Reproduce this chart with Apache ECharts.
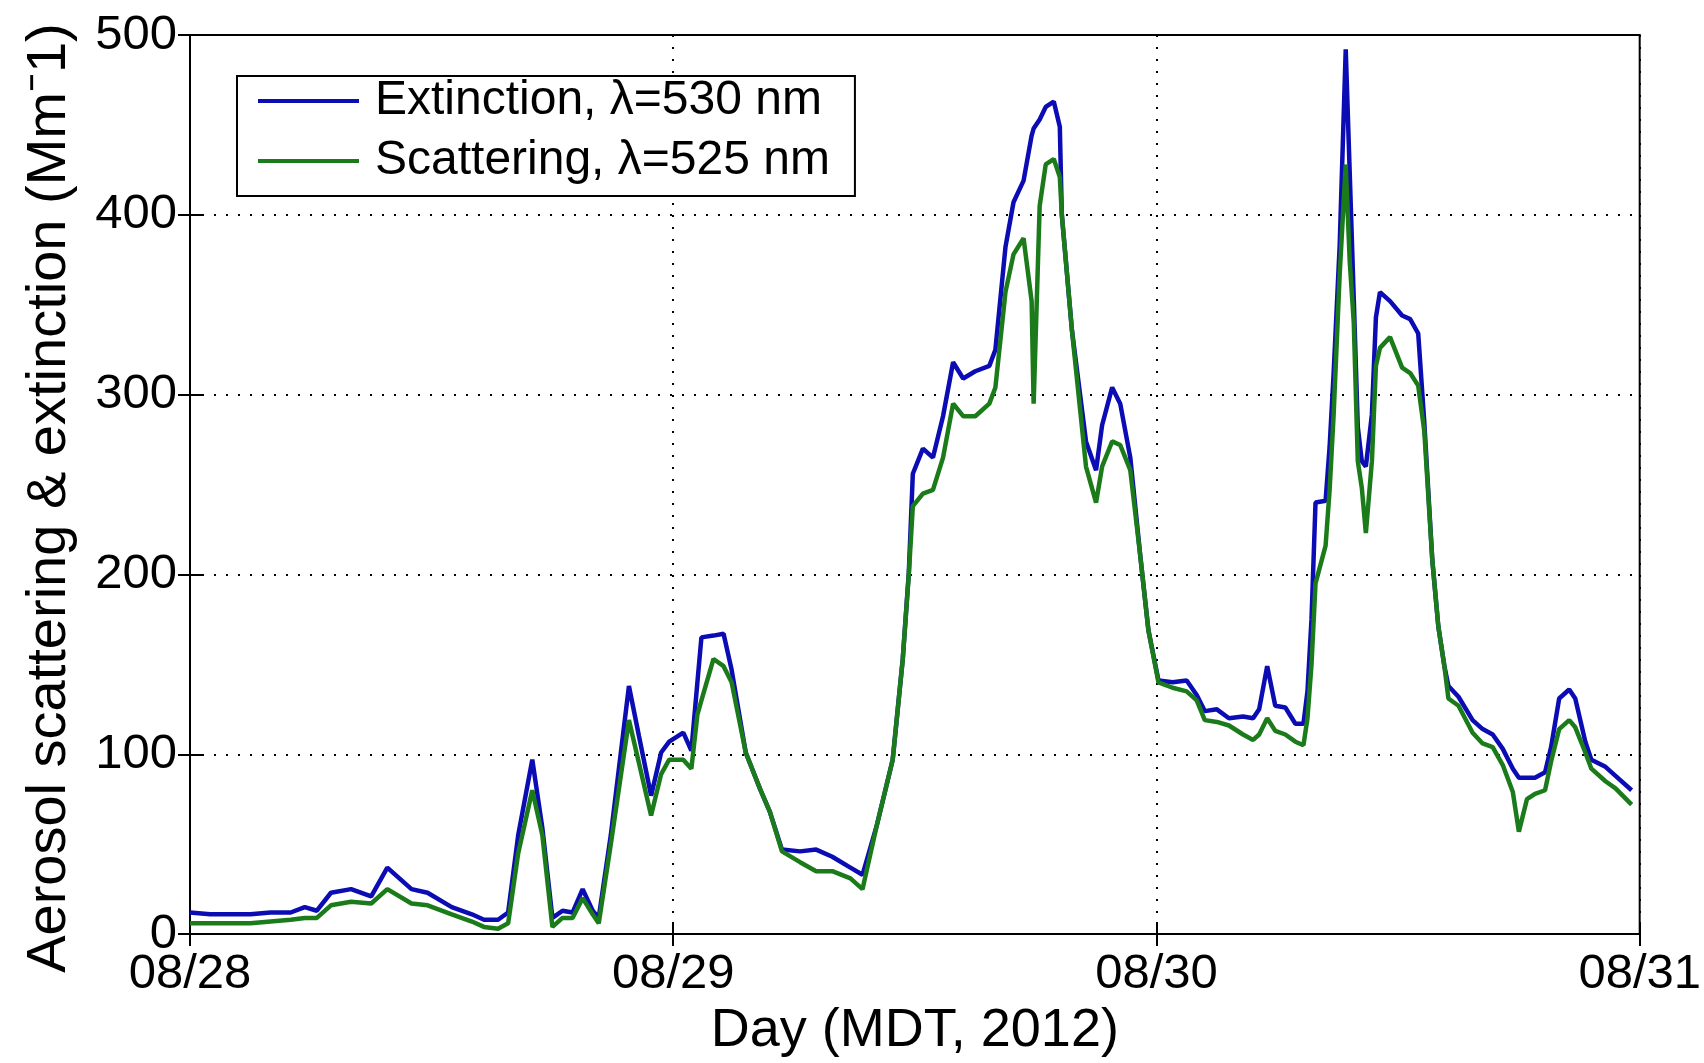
<!DOCTYPE html>
<html>
<head>
<meta charset="utf-8">
<title>Aerosol scattering & extinction</title>
<script src="https://cdn.jsdelivr.net/npm/echarts@6/dist/echarts.min.js"></script>
<style>
  html, body { margin: 0; padding: 0; background: #ffffff; }
  #chart { width: 1704px; height: 1063px; }
</style>
</head>
<body>
<div id="chart"></div>
<script>
// hours since 08/28 00:00 MDT
var hours = [
  0.0, 1.0, 2.0, 3.0, 4.0, 5.0, 5.7, 6.3, 7.0, 8.0, 9.0, 9.8, 11.0, 11.8, 13.0, 14.0,
  14.6, 15.3, 15.8, 16.3, 17.0, 17.5, 18.0, 18.5, 19.0, 19.5, 20.0, 20.3, 20.9, 21.8,
  22.3, 22.9, 23.4, 23.8, 24.5, 24.9, 25.2, 25.4, 26.0, 26.5, 26.9, 27.6, 28.3, 28.8,
  29.4, 30.3, 31.1, 31.9, 32.8, 33.4, 34.1, 34.9, 35.4, 35.7, 35.9, 36.4, 36.9, 37.4,
  37.9, 38.4, 39.0, 39.7, 40.0, 40.5, 40.9, 41.4, 41.8, 41.9, 42.2, 42.5, 42.9, 43.2,
  43.3, 43.8, 44.5, 45.0, 45.3, 45.8, 46.2, 46.7, 47.2, 47.6, 48.1, 48.8, 49.5, 50.0,
  50.4, 51.0, 51.6, 52.3, 52.8, 53.1, 53.5, 53.9, 54.4, 54.9, 55.3, 55.5, 55.7, 55.9,
  56.4, 56.6, 56.8, 57.1, 57.4, 57.6, 57.8, 58.0, 58.2, 58.4, 58.7, 58.9, 59.1, 59.6,
  60.2, 60.6, 61.0, 61.3, 61.7, 62.0, 62.3, 62.5, 63.0, 63.7, 64.2, 64.7, 65.2, 65.7,
  66.0, 66.4, 66.8, 67.3, 67.6, 68.0, 68.5, 68.8, 69.3, 69.6, 70.3, 70.8, 71.6
];
var extinction = [
  12, 11, 11, 11, 12, 12, 15, 13, 23, 25, 21, 37, 25, 23, 15, 11,
  8, 8, 12, 55, 97, 59, 9, 13, 12, 25, 13, 9, 55, 138,
  110, 77, 101, 107, 112, 102, 140, 165, 166, 167, 147, 101, 81, 68,
  47, 46, 47, 43, 37, 33, 60, 97, 153, 201, 256, 270, 265, 288,
  318, 309, 313, 316, 325, 382, 407, 419, 444, 448, 453, 460, 463, 449,
  400, 336, 274, 258, 283, 304, 295, 265, 210, 169, 141, 140, 141, 133,
  124, 125, 120, 121, 120, 125, 149, 127, 126, 117, 117, 135, 175, 240,
  241, 271, 312, 383, 492, 423, 353, 282, 263, 260, 289, 343, 357, 352,
  344, 342, 334, 285, 208, 171, 149, 138, 132, 119, 114, 111, 103, 92,
  87, 87, 87, 90, 104, 131, 136, 131, 107, 97, 93, 88, 80
];
var scattering = [
  6, 6, 6, 6, 7, 8, 9, 9, 16, 18, 17, 25, 17, 16, 11, 7,
  4, 3, 6, 45, 80, 55, 4, 9, 9, 20, 11, 6, 50, 119,
  95, 66, 89, 97, 97, 92, 122, 130, 153, 149, 140, 101, 81, 68,
  46, 40, 35, 35, 31, 25, 60, 97, 153, 200, 238, 245, 247, 265,
  295, 288, 288, 295, 304, 357, 378, 387, 352, 295, 405, 428, 431, 421,
  400, 336, 260, 240, 260, 274, 272, 258, 210, 169, 140, 137, 135, 130,
  119, 118, 116, 111, 108, 111, 120, 113, 111, 107, 105, 120, 150, 195,
  216, 247, 289, 367, 428, 374, 340, 263, 248, 223, 263, 316, 326, 332,
  315, 312, 305, 280, 208, 171, 149, 131, 127, 112, 106, 104, 94, 79,
  57, 75, 78, 80, 96, 114, 119, 115, 101, 92, 85, 81, 72
];
var dayLabels = ['08/28', '08/29', '08/30', '08/31'];
var seriesNames = ['Extinction, \u03bb=530 nm', 'Scattering, \u03bb=525 nm'];

function toPairs(ys) {
  var out = [];
  for (var i = 0; i < hours.length; i++) {
    out.push([hours[i], ys[i]]);
  }
  return out;
}

var font = '"Liberation Sans", Arial, sans-serif';
var chart = echarts.init(document.getElementById('chart'));

chart.setOption({
  backgroundColor: '#ffffff',
  animation: false,
  textStyle: { fontFamily: font, color: '#000' },
  grid: {
    left: 190,
    top: 35,
    width: 1451,
    height: 900,
    show: true,
    borderColor: '#000',
    borderWidth: 2,
    backgroundColor: '#fff'
  },
  // legend box in the top left corner
  legend: {
    orient: 'vertical',
    left: 237,
    top: 76,
    padding: [1, 25, 11, 21],
    itemWidth: 101,
    itemHeight: 4,
    itemGap: 12,
    icon: 'rect',
    backgroundColor: '#fff',
    borderColor: '#000',
    borderWidth: 2,
    borderRadius: 0,
    data: seriesNames,
    textStyle: {
      fontFamily: font,
      fontSize: 48,
      lineHeight: 48,
      color: '#000',
      padding: [0, 0, 0, 11]
    }
  },
  xAxis: [
    {
      type: 'value',
      min: 0,
      max: 72,
      interval: 24,
      name: 'Day (MDT, 2012)',
      nameLocation: 'middle',
      nameGap: 68,
      nameTextStyle: { fontSize: 54, color: '#000', fontFamily: font },
      axisLine: { show: true, lineStyle: { color: '#000', width: 2 } },
      axisTick: { show: true, inside: true, length: 12, lineStyle: { color: '#000', width: 2 } },
      axisLabel: {
        fontSize: 49,
        color: '#000',
        margin: 16,
        formatter: function (v) { return dayLabels[Math.round(v / 24)]; }
      },
      splitLine: { show: true, lineStyle: { color: '#000', width: 2, type: [2, 10] } }
    },
    {
      type: 'value',
      position: 'top',
      min: 0,
      max: 72,
      interval: 24,
      axisLine: { show: true, lineStyle: { color: '#000', width: 2 } },
      axisTick: { show: true, inside: true, length: 12, lineStyle: { color: '#000', width: 2 } },
      axisLabel: { show: false },
      splitLine: { show: false }
    }
  ],
  yAxis: [
    {
      type: 'value',
      min: 0,
      max: 500,
      interval: 100,
      name: 'Aerosol scattering & extinction (Mm\u207b1)',
      nameLocation: 'middle',
      nameGap: 112,
      // right padding nudges the rotated title a little downwards
      nameTextStyle: { fontSize: 56, color: '#000', fontFamily: font, padding: [0, 27, 0, 0] },
      axisLine: { show: true, lineStyle: { color: '#000', width: 2 } },
      axisTick: { show: true, inside: true, length: 12, lineStyle: { color: '#000', width: 2 } },
      axisLabel: { fontSize: 49, color: '#000', margin: 13 },
      splitLine: { show: true, lineStyle: { color: '#000', width: 2, type: [2, 10] } }
    },
    {
      type: 'value',
      position: 'right',
      min: 0,
      max: 500,
      interval: 100,
      axisLine: { show: true, lineStyle: { color: '#000', width: 2 } },
      axisTick: { show: true, inside: true, length: 12, lineStyle: { color: '#000', width: 2 } },
      axisLabel: { show: false },
      splitLine: { show: false }
    }
  ],
  series: [
    {
      name: seriesNames[0],
      type: 'line',
      xAxisIndex: 0,
      yAxisIndex: 0,
      showSymbol: false,
      color: '#0c0cb4',
      lineStyle: { width: 4.5, color: '#0c0cb4' },
      data: toPairs(extinction)
    },
    {
      name: seriesNames[1],
      type: 'line',
      xAxisIndex: 0,
      yAxisIndex: 0,
      showSymbol: false,
      color: '#1b7b1b',
      lineStyle: { width: 4.5, color: '#1b7b1b' },
      data: toPairs(scattering)
    }
  ]
});
</script>
</body>
</html>
